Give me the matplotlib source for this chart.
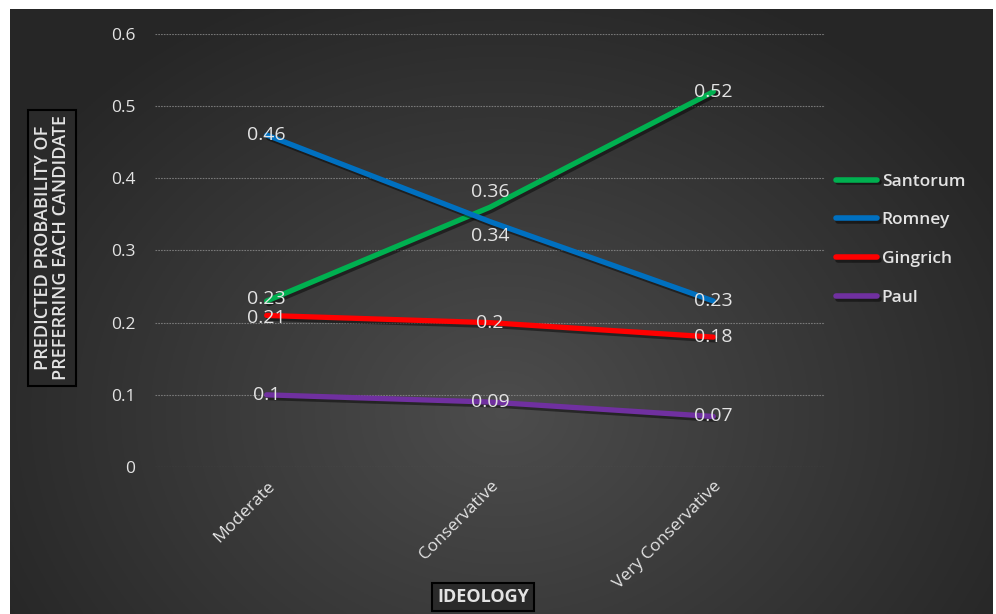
import numpy as np
import matplotlib
matplotlib.use("Agg")
import matplotlib.pyplot as plt
import matplotlib.patheffects as pe

# data
categories = ["Moderate", "Conservative", "Very Conservative"]
santorum = [0.23, 0.36, 0.52]
romney = [0.46, 0.34, 0.23]
gingrich = [0.21, 0.2, 0.18]
paul = [0.1, 0.09, 0.07]
series_names = ["Santorum", "Romney", "Gingrich", "Paul"]
y_ticks = [0, 0.1, 0.2, 0.3, 0.4, 0.5, 0.6]
y_tick_labels = ["0", "0.1", "0.2", "0.3", "0.4", "0.5", "0.6"]

colors = ["#00B050", "#0070C0", "#FF0000", "#7030A0"]
txt = "#e3e3e3"
plt.rcParams["font.family"] = ["Open Sans", "DejaVu Sans"]

W, H = 996, 614
fig = plt.figure(figsize=(W / 100, H / 100), dpi=100)

# radial gradient background (dark, lighter towards lower middle)
bg = fig.add_axes([10 / W, 0, (992 - 10) / W, (H - 9) / H])
yy, xx = np.mgrid[0:300, 0:500]
d = np.sqrt(((xx - 250) / 330.0) ** 2 + ((yy - 200) / 260.0) ** 2)
g = np.clip(0.30 - 0.17 * d, 0.15, 0.30)
bg.imshow(np.dstack([g, g, g]), aspect="auto", extent=[0, 1, 0, 1], origin="upper")
bg.axis("off")

ax = fig.add_axes([155 / W, (H - 467) / H, 670 / W, 433 / H])
ax.set_facecolor("none")
x = np.arange(len(categories))
all_series = [santorum, romney, gingrich, paul]
shadow = [pe.SimpleLineShadow(offset=(1.5, -2), shadow_color="black", alpha=0.45), pe.Normal()]
for vals, name, c in zip(all_series, series_names, colors):
    ax.plot(x, vals, color=c, lw=3.8, label=name, solid_capstyle="round", path_effects=shadow, zorder=3)

# data labels (Excel "center"), a few nudged apart where they crowd
offsets = {(0, 1): 11, (1, 1): -10, (0, 0): 1.5, (2, 0): -1.5}
for si, vals in enumerate(all_series):
    for i, v in enumerate(vals):
        dy = offsets.get((si, i), 0)
        ax.annotate(f"{v:g}", (x[i], v), xytext=(0, dy), textcoords="offset points",
                    ha="center", va="center", color=txt, fontsize=14, zorder=5)

ax.set_xlim(-0.5, 2.5)
ax.set_ylim(0, 0.6)
ax.set_yticks(y_ticks)
ax.set_yticklabels(y_tick_labels)
ax.set_xticks(x)
ax.set_xticklabels(categories, rotation=45, ha="right", rotation_mode="anchor")
ax.tick_params(length=0, colors=txt, labelsize=12.5)
ax.tick_params(axis="y", pad=14)
ax.tick_params(axis="x", pad=8)
for s in ax.spines.values():
    s.set_visible(False)
ax.grid(axis="y", color="#8a8a8a", lw=0.8, ls=(0, (1.5, 1)), alpha=0.8)
ax.set_axisbelow(True)

leg = ax.legend(loc="upper left", bbox_to_anchor=(820 / W, 1 - 158 / H), bbox_transform=fig.transFigure,
                frameon=False, fontsize=12.5, handlelength=2.4, handletextpad=0.25, labelspacing=1.3)
for t in leg.get_texts():
    t.set_color(txt)
    t.set_fontweight("semibold")
for l in leg.get_lines():
    l.set_linewidth(4)

box = dict(boxstyle="square,pad=0.3", facecolor="#2a2a2a", edgecolor="black", lw=1.5)
fig.text(52 / W, 1 - 248 / H, "PREDICTED PROBABILITY OF\nPREFERRING EACH CANDIDATE", rotation=90,
         ha="center", va="center", color=txt, fontsize=13, fontweight="semibold", bbox=box, linespacing=1.05)
fig.text(483 / W, 1 - 597 / H, "IDEOLOGY", ha="center", va="center", color=txt, fontsize=13,
         fontweight="bold", bbox=box)

fig.savefig("out.png", dpi=100, facecolor="white")
